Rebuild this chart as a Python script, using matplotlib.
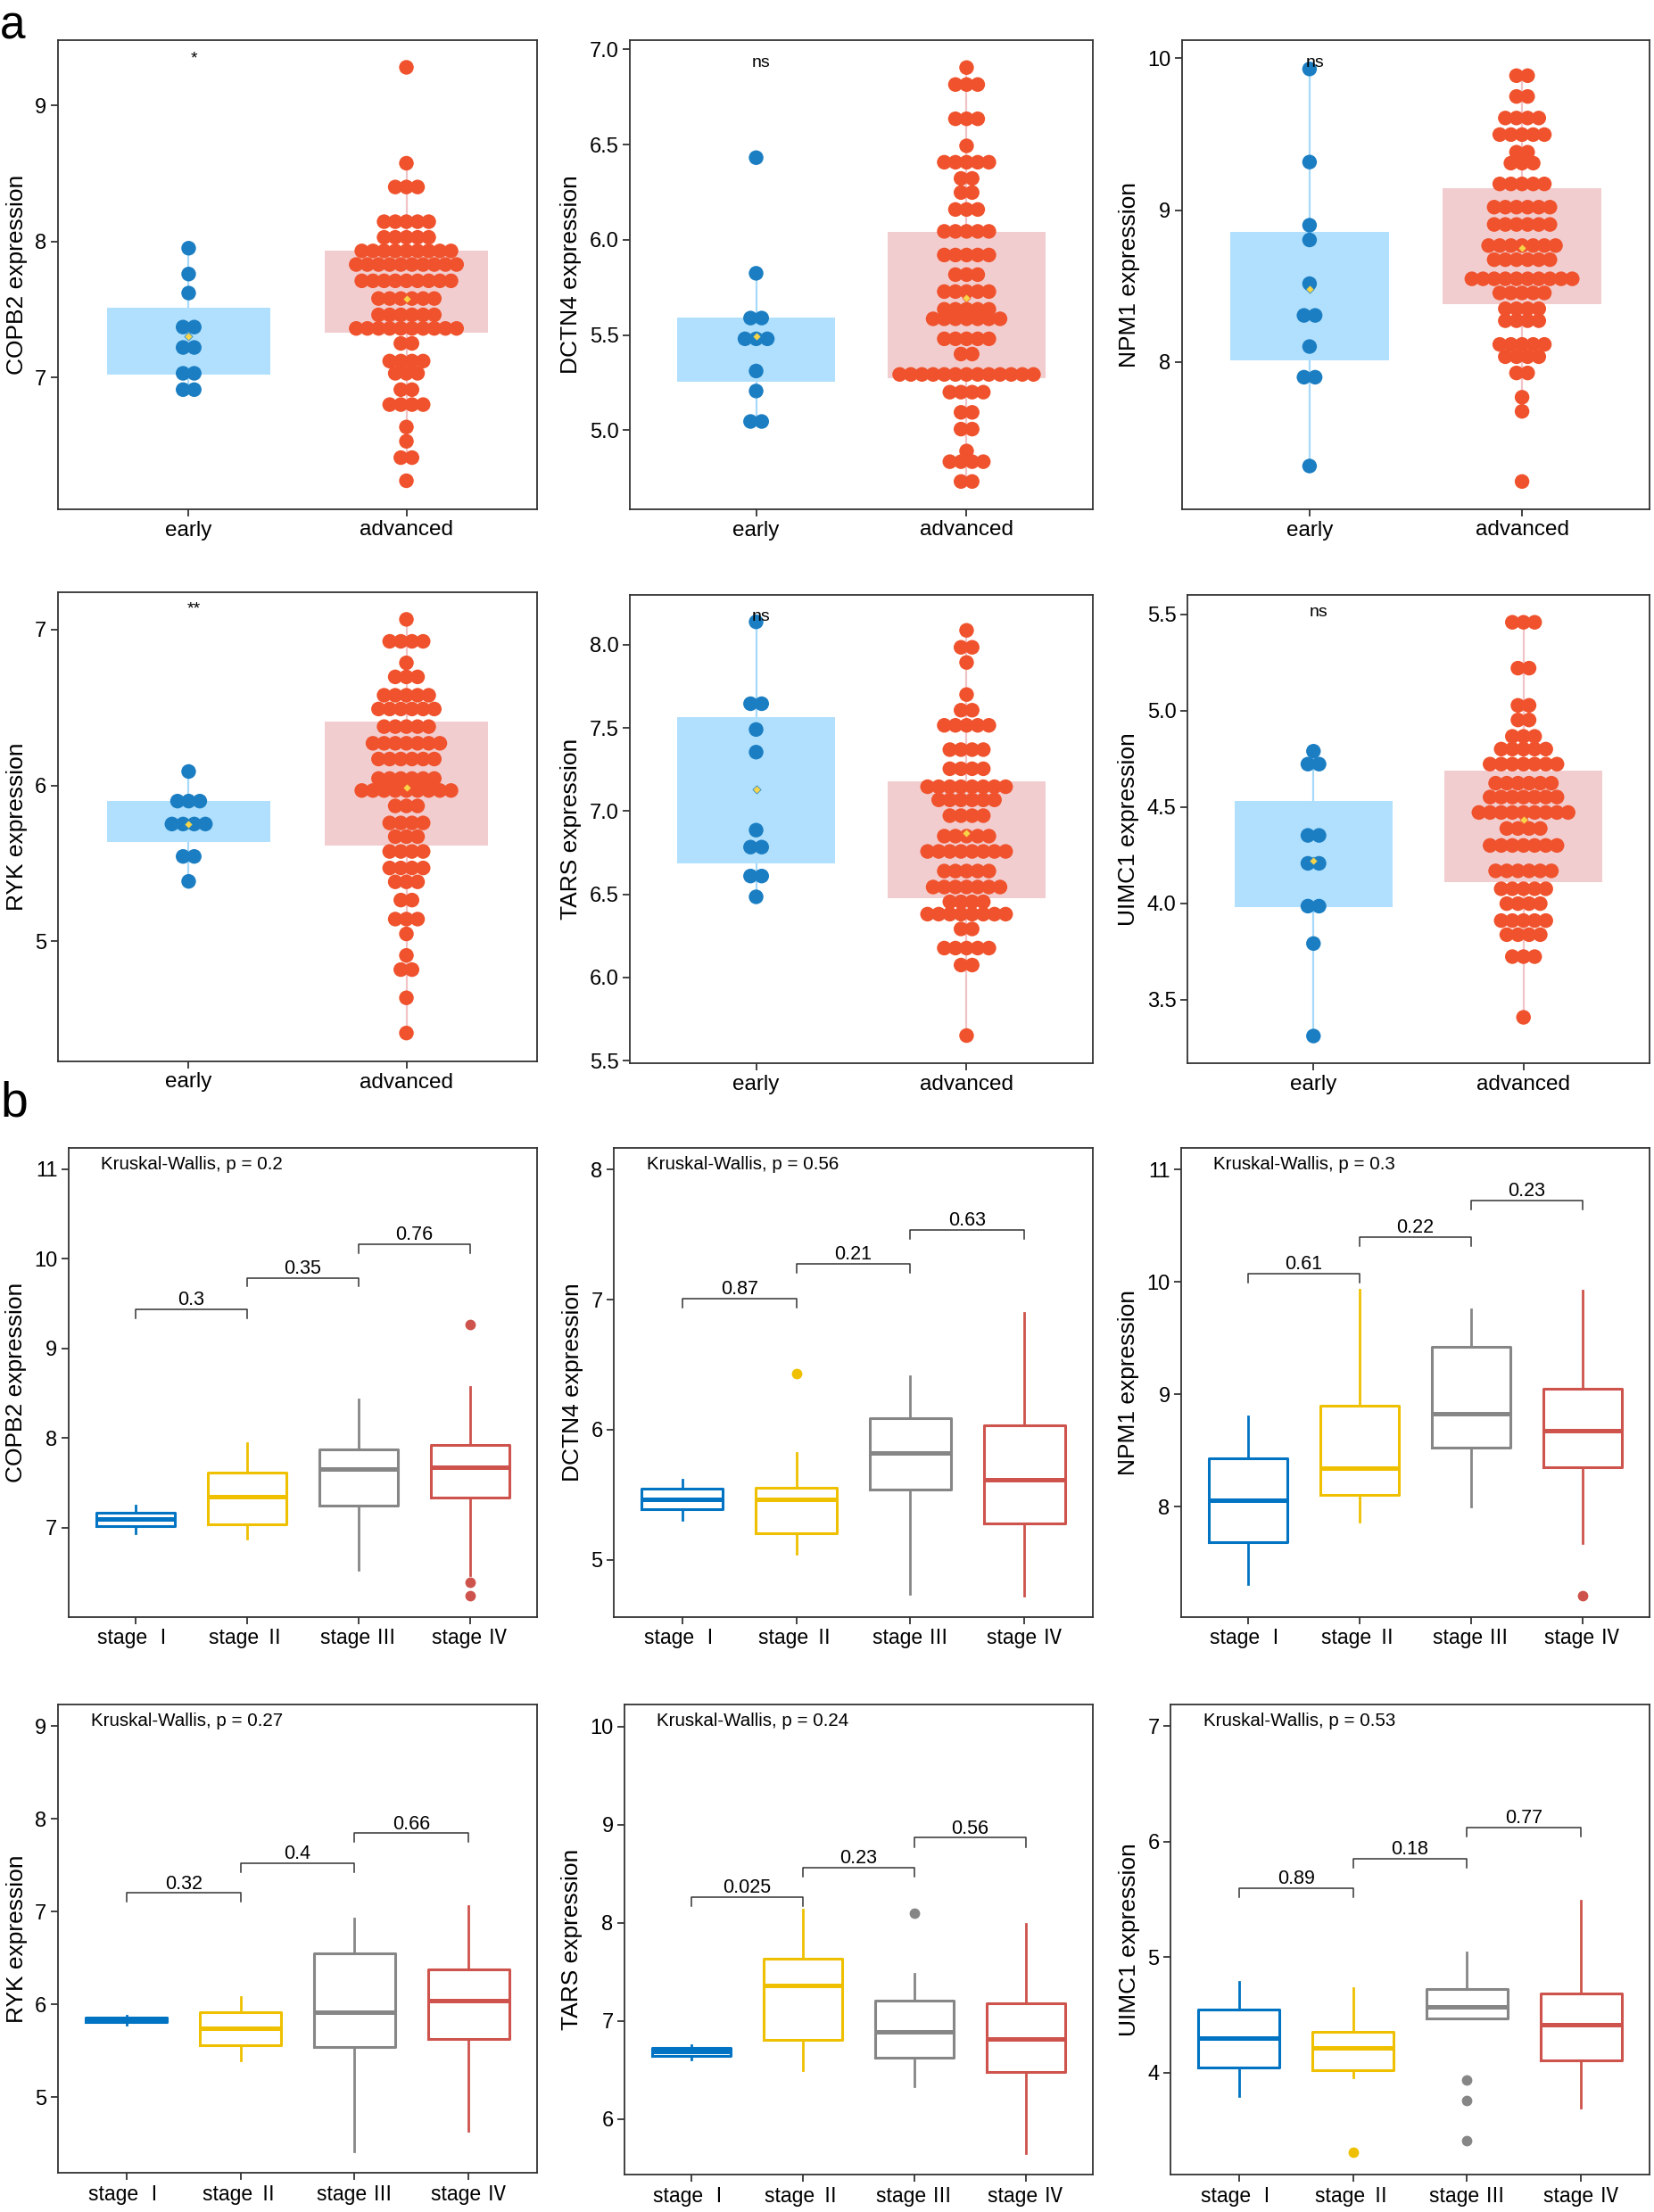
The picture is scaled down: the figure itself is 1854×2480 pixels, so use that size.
import numpy as np
import matplotlib.pyplot as plt

plt.rcParams['font.family'] = ['Liberation Sans', 'Noto Sans CJK SC']

# ---------------- panel a : early vs advanced (dot + box) ----------------
genes = ["COPB2", "DCTN4", "NPM1", "RYK", "TARS", "UIMC1"]
groups = ["early", "advanced"]
sig_labels = ["*", "ns", "ns", "**", "ns", "ns"]
sig_y = [9.34, 6.93, 9.97, 7.13, 8.17, 5.51]

# dot rows: y level of each stacked row and number of dots in it
copb2_early_y = [7.95, 7.76, 7.62, 7.37, 7.22, 7.03, 6.91]
copb2_early_n = [1, 1, 1, 2, 2, 2, 2]
copb2_adv_y = [9.28, 8.575, 8.40, 8.145, 8.03, 7.93, 7.83, 7.71, 7.58, 7.46, 7.36,
               7.25, 7.12, 7.03, 6.91, 6.80, 6.635, 6.53, 6.41, 6.24]
copb2_adv_n = [1, 1, 3, 5, 5, 9, 10, 9, 6, 6, 10, 2, 4, 3, 2, 4, 1, 1, 2, 1]

dctn4_early_y = [6.431, 5.824, 5.589, 5.480, 5.311, 5.206, 5.046]
dctn4_early_n = [1, 1, 2, 3, 1, 1, 2]
dctn4_adv_y = [6.904, 6.815, 6.635, 6.493, 6.407, 6.322, 6.248, 6.159, 6.044, 5.920,
               5.817, 5.728, 5.635, 5.585, 5.480, 5.40, 5.293, 5.20, 5.094, 5.006,
               4.891, 4.835, 4.731]
dctn4_adv_n = [1, 3, 3, 1, 5, 2, 2, 3, 5, 5, 3, 5, 5, 7, 5, 2, 13, 4, 2, 2, 1, 4, 2]

npm1_early_y = [9.930, 9.317, 8.901, 8.804, 8.516, 8.307, 8.102, 7.900, 7.315]
npm1_early_n = [1, 1, 1, 1, 1, 2, 1, 2, 1]
npm1_adv_y = [9.886, 9.749, 9.607, 9.498, 9.382, 9.310, 9.173, 9.020, 8.906, 8.767,
              8.674, 8.548, 8.455, 8.351, 8.272, 8.116, 8.035, 7.928, 7.768, 7.675, 7.213]
npm1_adv_n = [2, 2, 4, 5, 2, 3, 5, 6, 6, 7, 6, 10, 5, 4, 4, 5, 4, 2, 1, 1, 1]

ryk_early_y = [6.090, 5.900, 5.753, 5.545, 5.385]
ryk_early_n = [1, 3, 4, 2, 1]
ryk_adv_y = [7.066, 6.925, 6.787, 6.697, 6.579, 6.491, 6.378, 6.271, 6.170, 6.045,
             5.968, 5.869, 5.760, 5.672, 5.577, 5.471, 5.382, 5.265, 5.143, 5.048,
             4.910, 4.819, 4.638, 4.412]
ryk_adv_n = [1, 4, 1, 3, 5, 6, 5, 7, 6, 6, 9, 3, 4, 3, 4, 4, 3, 2, 3, 1, 1, 2, 1, 1]

tars_early_y = [8.138, 7.646, 7.491, 7.355, 6.886, 6.784, 6.610, 6.485]
tars_early_n = [1, 2, 1, 1, 1, 2, 2, 1]
tars_adv_y = [8.087, 7.985, 7.894, 7.701, 7.607, 7.516, 7.370, 7.255, 7.147, 7.068,
              6.973, 6.850, 6.758, 6.640, 6.544, 6.455, 6.381, 6.292, 6.177, 6.075, 5.651]
tars_adv_n = [1, 2, 1, 1, 2, 5, 4, 4, 8, 6, 4, 5, 8, 5, 7, 4, 8, 2, 5, 2, 1]

uimc1_early_y = [4.789, 4.722, 4.352, 4.207, 3.985, 3.791, 3.311]
uimc1_early_n = [1, 2, 2, 2, 2, 1, 1]
uimc1_adv_y = [5.458, 5.220, 5.027, 4.951, 4.866, 4.800, 4.722, 4.623, 4.551, 4.471,
               4.388, 4.300, 4.168, 4.075, 3.998, 3.910, 3.837, 3.723, 3.408]
uimc1_adv_n = [3, 2, 2, 2, 3, 5, 7, 6, 7, 9, 4, 7, 6, 5, 4, 5, 4, 3, 1]

# box stats per group: (q1, q3, whisker low, whisker high, mean)
box_early = [(7.02, 7.51, 6.91, 7.95, 7.30),
             (5.256, 5.594, 5.046, 5.824, 5.493),
             (8.012, 8.859, 7.315, 9.930, 8.481),
             (5.640, 5.900, 5.385, 6.090, 5.753),
             (6.686, 7.567, 6.485, 8.138, 7.130),
             (3.980, 4.533, 3.311, 4.789, 4.222)]
box_adv = [(7.33, 7.93, 6.38, 8.575, 7.58),
           (5.274, 6.039, 4.731, 6.904, 5.694),
           (8.383, 9.143, 7.675, 9.886, 8.753),
           (5.613, 6.412, 4.412, 7.066, 5.989),
           (6.478, 7.179, 5.651, 8.087, 6.871),
           (4.108, 4.689, 3.408, 5.458, 4.432)]

rows_a = [
    ((copb2_early_y, copb2_early_n), (copb2_adv_y, copb2_adv_n)),
    ((dctn4_early_y, dctn4_early_n), (dctn4_adv_y, dctn4_adv_n)),
    ((npm1_early_y, npm1_early_n), (npm1_adv_y, npm1_adv_n)),
    ((ryk_early_y, ryk_early_n), (ryk_adv_y, ryk_adv_n)),
    ((tars_early_y, tars_early_n), (tars_adv_y, tars_adv_n)),
    ((uimc1_early_y, uimc1_early_n), (uimc1_adv_y, uimc1_adv_n)),
]
ylim_a = [(6.03, 9.48), (4.585, 7.048), (7.03, 10.12), (4.23, 7.24), (5.485, 8.30), (3.17, 5.60)]
yticks_a = [[7, 8, 9], [5.0, 5.5, 6.0, 6.5, 7.0], [8, 9, 10], [5, 6, 7],
            [5.5, 6.0, 6.5, 7.0, 7.5, 8.0], [3.5, 4.0, 4.5, 5.0, 5.5]]
yfmt_a = ["{:.0f}", "{:.1f}", "{:.0f}", "{:.0f}", "{:.1f}", "{:.1f}"]

# ---------------- panel b : by stage (box plots) ----------------
stages = ["stage Ⅰ", "stage Ⅱ", "stage Ⅲ", "stage Ⅳ"]
# (q1, median, q3, whisker low, whisker high) for stage I..IV
copb2_stage = [(7.020, 7.098, 7.173, 6.941, 7.244), (7.039, 7.350, 7.618, 6.878, 7.944),
               (7.244, 7.653, 7.873, 6.532, 8.436), (7.334, 7.673, 7.924, 6.477, 8.573)]
dctn4_stage = [(5.387, 5.468, 5.544, 5.309, 5.614), (5.206, 5.463, 5.557, 5.044, 5.823),
               (5.539, 5.823, 6.090, 4.735, 6.412), (5.276, 5.614, 6.036, 4.727, 6.899)]
npm1_stage = [(7.687, 8.056, 8.432, 7.314, 8.801), (8.103, 8.344, 8.902, 7.868, 9.935),
              (8.526, 8.830, 9.422, 8.000, 9.757), (8.354, 8.676, 9.049, 7.680, 9.926)]
ryk_stage = [(5.808, 5.835, 5.858, 5.782, 5.877), (5.558, 5.744, 5.911, 5.391, 6.082),
             (5.535, 5.915, 6.545, 4.412, 6.928), (5.630, 6.036, 6.378, 4.639, 7.061)]
tars_stage = [(6.640, 6.686, 6.726, 6.604, 6.747), (6.805, 7.355, 7.635, 6.492, 8.131),
              (6.625, 6.891, 7.204, 6.334, 7.474), (6.478, 6.816, 7.179, 5.651, 7.987)]
uimc1_stage = [(4.040, 4.296, 4.544, 3.796, 4.788), (4.022, 4.214, 4.351, 3.955, 4.733),
               (4.464, 4.565, 4.724, 4.464, 5.038), (4.107, 4.412, 4.687, 3.695, 5.486)]
stats_b = [copb2_stage, dctn4_stage, npm1_stage, ryk_stage, tars_stage, uimc1_stage]

outliers_b = [
    [[], [], [], [9.269, 6.390, 6.241]],
    [[], [6.431], [], []],
    [[], [], [], [7.210]],
    [[], [], [], []],
    [[], [], [8.092], []],
    [[], [3.305], [3.933, 3.756, 3.405], []],
]
pair_p = [["0.3", "0.35", "0.76"], ["0.87", "0.21", "0.63"], ["0.61", "0.22", "0.23"],
          ["0.32", "0.4", "0.66"], ["0.025", "0.23", "0.56"], ["0.89", "0.18", "0.77"]]
pair_y = [[9.435, 9.789, 10.162], [7.010, 7.275, 7.540], [10.073, 10.402, 10.724],
          [7.201, 7.524, 7.843], [8.261, 8.562, 8.864], [5.596, 5.853, 6.121]]
kw_p = ["0.2", "0.56", "0.3", "0.27", "0.24", "0.53"]
ylim_b = [(6.005, 11.236), (4.559, 8.168), (7.017, 11.194), (4.184, 9.232), (5.432, 10.223), (3.115, 7.189)]
yticks_b = [[7, 8, 9, 10, 11], [5, 6, 7, 8], [8, 9, 10, 11], [5, 6, 7, 8, 9], [6, 7, 8, 9, 10], [4, 5, 6, 7]]

# ---------------- layout (pixels: left, top, right, bottom) ----------------
W, H = 1854, 2480
pos_a = [(65, 45, 602, 571), (706, 45, 1225, 571), (1325, 45, 1849, 571),
         (65, 664, 602, 1190), (706, 667, 1225, 1192), (1331, 667, 1849, 1192)]
pos_b = [(77, 1287, 602, 1813), (688, 1287, 1225, 1813), (1324, 1287, 1849, 1813),
         (65, 1911, 602, 2436), (700, 1911, 1225, 2438), (1312, 1911, 1849, 2438)]

dot_col = ["#1B7EC3", "#EF522C"]
fill_col = ["#B0E0FD", "#F2CDCF"]
whisk_col = ["#A6DAFA", "#F1C3C7"]
stage_col = ["#0073C2", "#EFC000", "#868686", "#CD534C"]
frame = "#333333"

fig = plt.figure(figsize=(W / 100, H / 100), dpi=100)


def add_ax(l, t, r, b):
    return fig.add_axes([l / W, 1 - b / H, (r - l) / W, (b - t) / H])


def style(ax, xsize):
    for sp in ax.spines.values():
        sp.set_color(frame)
        sp.set_linewidth(1.3)
    ax.tick_params(direction='out', length=6, width=1.3, color=frame,
                   labelsize=17, pad=3)
    ax.tick_params(axis='x', labelsize=xsize)


for g, gene in enumerate(genes):
    l, t, r, b = pos_a[g]
    ax = add_ax(l, t, r, b)
    step = 12.5 / ((r - l) / 2.2)
    for i, (vals, cnts) in enumerate(rows_a[g]):
        x0 = i + 1
        q1, q3, lo, hi, mean = (box_early, box_adv)[i][g]
        ax.vlines(x0, lo, hi, color=whisk_col[i], lw=1.6, zorder=1)
        ax.bar(x0, q3 - q1, bottom=q1, width=0.75, color=fill_col[i], zorder=2)
        xs, ys = [], []
        for v, n in zip(vals, cnts):
            xs.extend(x0 + (np.arange(n) - (n - 1) / 2) * step)
            ys.extend([v] * n)
        ax.scatter(xs, ys, s=140, color=dot_col[i], edgecolors='none', zorder=3)
        ax.scatter([x0], [mean], marker='D', s=22, color="#F8D548",
                   edgecolors=dot_col[i], linewidths=0.5, zorder=4)
    ax.text(1.025, sig_y[g], sig_labels[g], ha='center', va='center', fontsize=14)
    ax.set_xlim(0.4, 2.6)
    ax.set_ylim(*ylim_a[g])
    ax.set_xticks([1, 2])
    ax.set_xticklabels(groups)
    ax.set_yticks(yticks_a[g])
    ax.set_yticklabels([yfmt_a[g].format(v) for v in yticks_a[g]])
    ax.set_ylabel(f"{gene} expression", fontsize=19, labelpad=6)
    style(ax, 17.5)

for g, gene in enumerate(genes):
    l, t, r, b = pos_b[g]
    ax = add_ax(l, t, r, b)
    lo_y, hi_y = ylim_b[g]
    span = hi_y - lo_y
    for k in range(4):
        q1, med, q3, wlo, whi = stats_b[g][k]
        c = stage_col[k]
        ax.bxp([dict(q1=q1, med=med, q3=q3, whislo=wlo, whishi=whi, fliers=[])],
               positions=[k + 1], widths=0.71, showcaps=False, showfliers=False,
               boxprops=dict(color=c, linewidth=2.2),
               medianprops=dict(color=c, linewidth=3.6, solid_capstyle='butt'),
               whiskerprops=dict(color=c, linewidth=2.0), manage_ticks=False)
        outs = outliers_b[g][k]
        if outs:
            ax.plot([k + 1] * len(outs), outs, 'o', ms=8.5, color=c, mec='none')
    drop = 0.019 * span
    for j in range(3):
        x1, x2, y = j + 1, j + 2, pair_y[g][j]
        ax.plot([x1, x1, x2, x2], [y - drop, y, y, y - drop], color=frame, lw=1.1)
        ax.text((x1 + x2) / 2, y + 0.009 * span, pair_p[g][j], ha='center',
                va='baseline', fontsize=15.5)
    ax.text(0.068, 0.965, f"Kruskal-Wallis, p = {kw_p[g]}", transform=ax.transAxes,
            ha='left', va='center', fontsize=14.8)
    ax.set_xlim(0.4, 4.6)
    ax.set_ylim(lo_y, hi_y)
    ax.set_xticks([1, 2, 3, 4])
    ax.set_xticklabels(stages)
    ax.set_yticks(yticks_b[g])
    ax.set_ylabel(f"{gene} expression", fontsize=19, labelpad=6)
    style(ax, 16.5)

fig.text(0 / W, 1 - 44 / H, "a", fontsize=37, va='baseline', ha='left')
fig.text(0 / W, 1 - 1252 / H, "b", fontsize=40, va='baseline', ha='left')

fig.savefig("out.png", dpi=100)
